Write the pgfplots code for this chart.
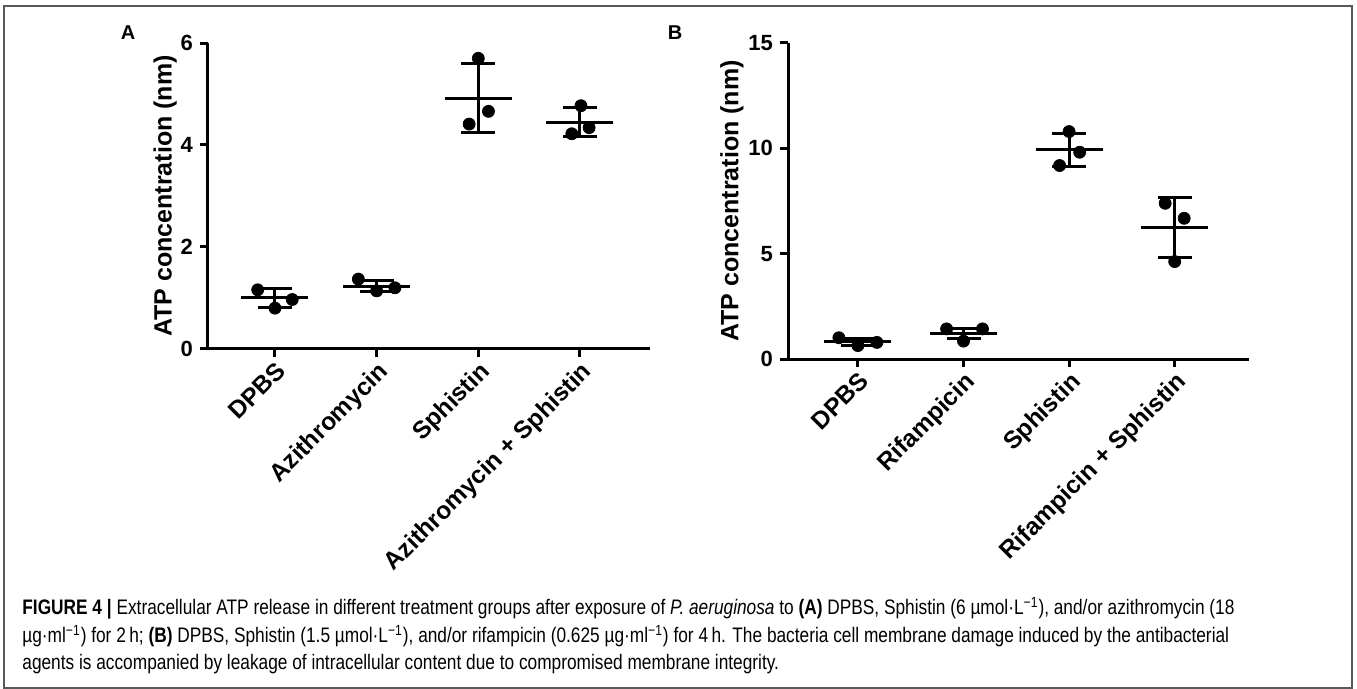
\documentclass[border=0pt]{standalone}
\usepackage{fontspec}
\setmainfont{Liberation Sans}
\newfontfamily\capfont[FakeStretch=0.823]{Liberation Sans}
\usepackage{pgfplots}
\usepackage{pgfplotstable}
\pgfplotsset{compat=1.18}

% individual replicates (x jittered round the category)
\pgfplotstableread{
x y
-0.17 1.16
0.00 0.80
0.17 0.97
0.82 1.37
1.00 1.14
1.18 1.20
2.00 5.70
1.91 4.41
2.10 4.66
3.01 4.77
2.92 4.22
3.09 4.34
}\ptsA
% mean and SD
\pgfplotstableread{
x m ep em
0 1.00 0.18 0.19
1 1.235 0.10 0.11
2 4.91 0.69 0.66
3 4.44 0.29 0.28
}\sumA

\pgfplotstableread{
x y
-0.18 1.02
0.00 0.65
0.18 0.80
0.84 1.44
1.00 0.86
1.18 1.44
2.00 10.79
1.91 9.18
2.10 9.81
2.91 7.39
3.09 6.68
3.00 4.63
}\ptsB
\pgfplotstableread{
x m ep em
0 0.82 0.18 0.18
1 1.24 0.22 0.25
2 9.92 0.78 0.80
3 6.24 1.44 1.42
}\sumB

\pgfplotsset{gp/.style={
  scale only axis, axis lines=left, clip=false,
  axis line style={line width=1.5pt,-},
  tick style={line width=1.5pt,black}, tick align=outside, major tick length=4pt,
  ymin=0, xtick={0,1,2,3},
  /pgf/number format/assume math mode=true,
  yticklabel style={font=\bfseries\fontsize{11}{13}\selectfont},
  xticklabel style={font=\bfseries\fontsize{12.3}{14}\selectfont,rotate=45,anchor=north east,inner sep=1pt},
  ylabel style={font=\bfseries\fontsize{12.5}{15}\selectfont,anchor=center},
  ylabel={ATP concentration (nm)},
}}
\pgfplotsset{meanbar/.style={only marks,mark=-,mark size=16.75pt,mark options={line width=1.5pt},
  error bars/.cd,y dir=both,y explicit,error bar style={line width=1.5pt},
  error mark=|,error mark options={line width=1.5pt,mark size=8.5pt}}}

\begin{document}
\begin{tikzpicture}
\useasboundingbox (0pt,0pt) rectangle (678.5pt,344.5pt);
\draw[line width=1pt,black!65] (2pt,0.5pt) rectangle (676pt,341.5pt);

\node[font=\bfseries\fontsize{10}{12}\selectfont] at (64pt,328pt) {A};
\node[font=\bfseries\fontsize{10}{12}\selectfont] at (337.5pt,328pt) {B};

\begin{axis}[gp,at={(104pt,170pt)},anchor=south west,width=221pt,height=153pt,
  xmin=-0.659,xmax=3.689,ymax=6,ytick={0,2,4,6},
  xticklabels={DPBS,Azithromycin,Sphistin,Azithromycin + Sphistin},
  ylabel style={at={(axis description cs:-0.097,0.5)}}]
\addplot[meanbar] table[x=x,y=m,y error plus=ep,y error minus=em]{\sumA};
\addplot[only marks,mark=*,mark size=3pt,black] table[x=x,y=y]{\ptsA};
\end{axis}

\begin{axis}[gp,at={(394pt,164.85pt)},anchor=south west,width=230.3pt,height=158.3pt,
  xmin=-0.662,xmax=3.70,ymax=15,ytick={0,5,10,15},
  xticklabels={DPBS,Rifampicin,Sphistin,Rifampicin + Sphistin},
  ylabel style={at={(axis description cs:-0.122,0.5)}}]
\addplot[meanbar] table[x=x,y=m,y error plus=ep,y error minus=em]{\sumB};
\addplot[only marks,mark=*,mark size=3pt,black] table[x=x,y=y]{\ptsB};
\end{axis}

\begin{scope}[every node/.style={anchor=base west,inner sep=0pt,font=\capfont\fontsize{10.5}{13}\selectfont}]
\node at (11pt,37pt) {\textbf{FIGURE 4 |} Extracellular ATP release in different treatment groups after exposure of \textit{P. aeruginosa} to \textbf{(A)} DPBS, Sphistin (6 µmol·L\textsuperscript{−1}), and/or azithromycin (18};
\node at (11pt,23pt) {µg·ml\textsuperscript{−1}) for 2\,h; \textbf{(B)} DPBS, Sphistin (1.5 µmol·L\textsuperscript{−1}), and/or rifampicin (0.625 µg·ml\textsuperscript{−1}) for 4\,h. The bacteria cell membrane damage induced by the antibacterial};
\node at (11pt,9.5pt) {agents is accompanied by leakage of intracellular content due to compromised membrane integrity.};
\end{scope}
\end{tikzpicture}
\end{document}
